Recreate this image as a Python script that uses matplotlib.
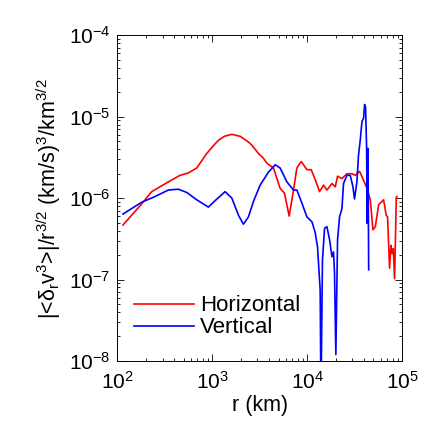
import numpy as np
import matplotlib
matplotlib.use('Agg')
import matplotlib.pyplot as plt

plt.rcParams['font.family'] = ['Liberation Sans', 'DejaVu Sans']
plt.rcParams['mathtext.fontset'] = 'custom'
plt.rcParams['mathtext.rm'] = 'Liberation Sans'
plt.rcParams['mathtext.it'] = 'Liberation Sans:italic'
plt.rcParams['mathtext.default'] = 'regular'
plt.rcParams['axes.unicode_minus'] = False

# values, stored as log10(r [km]) and log10(value)
h_logr = [2.06, 2.257, 2.363, 2.538, 2.661, 2.749, 2.837, 2.943, 3.033, 3.065,
          3.129, 3.207, 3.294, 3.382, 3.418, 3.487, 3.540, 3.576, 3.646, 3.716,
          3.762, 3.811, 3.857, 3.892, 3.938, 3.998, 4.043, 4.085, 4.131, 4.173,
          4.209, 4.262, 4.297, 4.321, 4.367, 4.420, 4.473, 4.507, 4.553, 4.595,
          4.631, 4.666, 4.694, 4.719, 4.754, 4.790, 4.806, 4.834, 4.848, 4.869,
          4.884, 4.894, 4.908, 4.922, 4.940, 4.947]
h_logv = [-6.33, -6.07, -5.92, -5.80, -5.72, -5.69, -5.63, -5.45, -5.33, -5.29,
          -5.24, -5.216, -5.24, -5.31, -5.35, -5.45, -5.51, -5.57, -5.63, -5.88,
          -5.94, -6.22, -5.90, -5.63, -5.55, -5.65, -5.65, -5.77, -5.92, -5.84,
          -5.90, -5.82, -5.86, -5.73, -5.76, -5.70, -5.70, -5.72, -5.67, -5.78,
          -5.88, -6.02, -6.39, -6.35, -6.08, -6.04, -6.02, -6.21, -6.23, -6.86,
          -6.58, -6.68, -6.62, -6.99, -5.99, -5.98]

v_logr = [2.06, 2.257, 2.398, 2.538, 2.643, 2.732, 2.837, 2.960, 3.031, 3.136,
          3.207, 3.277, 3.329, 3.382, 3.435, 3.505, 3.593, 3.664, 3.716, 3.787,
          3.857, 3.892, 3.945, 3.998, 4.051, 4.085, 4.110, 4.138, 4.146, 4.162,
          4.184, 4.209, 4.237, 4.262, 4.279, 4.289, 4.303, 4.321, 4.342, 4.367,
          4.384, 4.420, 4.455, 4.483, 4.500, 4.525, 4.542, 4.560, 4.578, 4.595,
          4.606, 4.616, 4.627, 4.634, 4.642, 4.649]
v_logv = [-6.195, -6.05, -5.98, -5.90, -5.89, -5.93, -6.02, -6.11, -6.03, -5.92,
          -6.00, -6.21, -6.32, -6.23, -6.04, -5.84, -5.68, -5.59, -5.63, -5.80,
          -5.90, -5.90, -6.06, -6.23, -6.29, -6.42, -6.60, -7.13, -8.5, -6.76,
          -6.37, -6.35, -6.51, -6.72, -6.66, -6.92, -7.92, -6.51, -6.23, -6.13,
          -5.82, -5.72, -5.72, -5.86, -6.01, -5.80, -5.47, -5.29, -5.06, -5.02,
          -4.85, -4.88, -5.37, -6.31, -5.39, -6.88]

r_h = 10 ** np.array(h_logr)
val_h = 10 ** np.array(h_logv)
r_v = 10 ** np.array(v_logr)
val_v = 10 ** np.array(v_logv)

fig = plt.figure(figsize=(4.36, 4.36), dpi=100)
ax = fig.add_axes([0.269, 0.172, 0.653, 0.747])

ax.plot(r_h, val_h, color='red', lw=1.2, label='Horizontal')
ax.plot(r_v, val_v, color='blue', lw=1.2, label='Vertical')

ax.set_xscale('log')
ax.set_yscale('log')
ax.set_xlim(1e2, 1e5)
ax.set_ylim(1e-8, 1e-4)

ax.tick_params(which='both', direction='in', top=True, right=True, labelsize=15, width=0.6)
ax.tick_params(which='major', length=5)
ax.tick_params(which='minor', length=2.5)
ax.tick_params(axis='x', which='major', pad=7)
ax.tick_params(axis='y', which='major', pad=5)
for s in ax.spines.values():
    s.set_linewidth(0.7)

ax.set_xlabel('r (km)', fontsize=15.5, labelpad=2)
ax.set_ylabel('|<δ$_r$v$^3$>|/r$^{3/2}$ (km/s)$^3$/km$^{3/2}$', fontsize=15.5, labelpad=4)

ax.legend(loc='lower left', bbox_to_anchor=(0.02, 0.035), frameon=False, fontsize=16,
          handlelength=2.7, handletextpad=0.25, labelspacing=0.05, borderpad=0)

plt.savefig('out.png', dpi=100)
